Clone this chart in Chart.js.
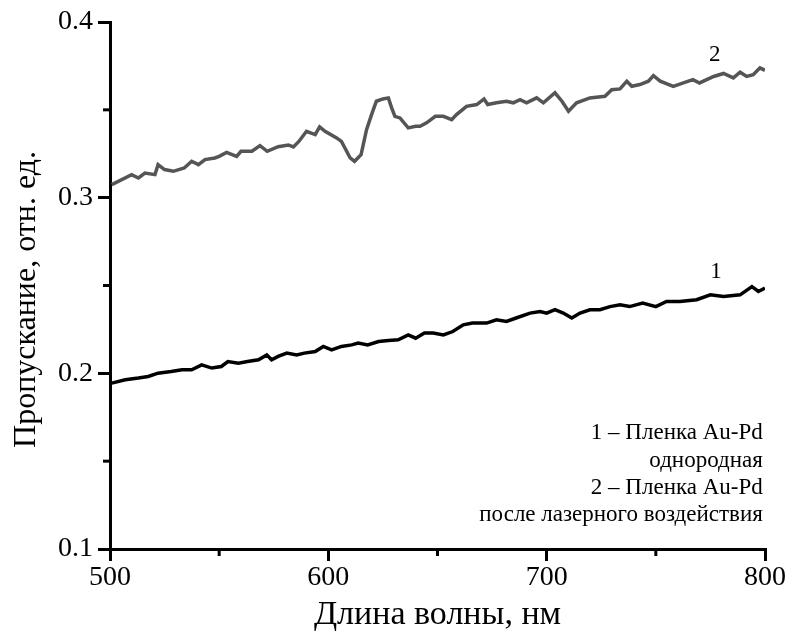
<!DOCTYPE html>
<html>
<head>
<meta charset="utf-8">
<script src="https://cdn.jsdelivr.net/npm/chart.js@4"></script>
<style>
  html, body { margin: 0; padding: 0; background: #fff; }
  #wrap { width: 790px; height: 635px; }
</style>
</head>
<body>
<div id="wrap"><canvas id="c" width="790" height="635"></canvas></div>
<script>
// Series 1: homogeneous Au-Pd film
const wl1 = [500.8,507,513,517.5,522,528,533,537.4,542,546.6,551,554,558.8,563,568,571.8,574,577,581,585.5,589,594,597.7,601.5,606,610.7,613.7,618,623,627.5,632,636.6,640,644,648,652.7,657,661.8,666,672.5,677,681.6,686,692.4,697,700,703.8,707.6,711.5,715.3,719.8,724.4,729,733.6,738,744,750,754.9,761,768.7,775,781,788.6,794,797,800];
const tr1 = [0.1944,0.1963,0.1973,0.1982,0.2001,0.201,0.202,0.202,0.2048,0.203,0.2039,0.2067,0.2058,0.2067,0.2077,0.2105,0.2077,0.2096,0.2115,0.2105,0.2115,0.2124,0.2153,0.2134,0.2153,0.2162,0.2172,0.2162,0.2181,0.2187,0.2191,0.2219,0.22,0.2229,0.2229,0.2219,0.2238,0.2276,0.2286,0.2286,0.2305,0.2295,0.2315,0.2343,0.2352,0.2343,0.2362,0.2343,0.2315,0.2343,0.2362,0.2362,0.238,0.239,0.238,0.24,0.238,0.2409,0.2409,0.2419,0.2447,0.2438,0.2447,0.2494,0.2466,0.2485];

// Series 2: Au-Pd film after laser treatment
const wl2 = [500.8,509.9,513,516,520.6,522,525,529,534,537.4,540.5,543.5,548,550,553.4,558,560,565,568.7,572,577,581.7,584,586.5,590,594,596,598.5,603.8,606,610,612,615,617.5,619.8,622,625,627.5,629,630.5,632.8,636.6,640,642,645,649,652.7,656.5,658.7,663.3,668,671.3,673,677,681.6,684.7,687.8,690.8,695.4,698.5,703.8,707,710,713.7,719.8,726.7,729.8,733.6,736.7,739,742.7,746.6,748.9,752,758,762.6,767,770,776.5,781,785.5,788.6,791.6,794.6,797.7,800];
const tr2 = [0.3074,0.3131,0.3112,0.314,0.3131,0.3188,0.316,0.315,0.3169,0.3207,0.3188,0.3217,0.3226,0.3235,0.3258,0.3235,0.3264,0.3264,0.3296,0.3264,0.329,0.330,0.3289,0.332,0.3378,0.3359,0.3403,0.3378,0.334,0.332,0.3226,0.3207,0.3245,0.3387,0.3473,0.3549,0.3562,0.3568,0.3511,0.3463,0.3454,0.3397,0.3406,0.3406,0.3426,0.3463,0.3463,0.3444,0.3473,0.352,0.353,0.3562,0.353,0.354,0.3549,0.354,0.3558,0.354,0.3568,0.354,0.3597,0.3549,0.3492,0.354,0.3568,0.3577,0.3615,0.3619,0.3663,0.3634,0.3644,0.3663,0.3695,0.3663,0.3634,0.3653,0.3672,0.3653,0.369,0.3707,0.3682,0.3714,0.369,0.37,0.3739,0.3725];

const xMajorTicks = [500, 600, 700, 800];
const xMinorTicks = [550, 650, 750];
const yMajorTicks = [0.1, 0.2, 0.3, 0.4];
const yMinorTicks = [0.15, 0.25, 0.35];

const xTitle = 'Длина волны, нм';
const yTitle = 'Пропускание, отн. ед.';
const curveLabels = [
  { text: '2', x: 777, y: 0.3815 },
  { text: '1', x: 777.5, y: 0.2578 }
];
const legendLines = [
  { text: '1 – Пленка Au-Pd', y: 0.1661 },
  { text: 'однородная', y: 0.1501 },
  { text: '2 – Пленка Au-Pd', y: 0.1348 },
  { text: 'после лазерного воздействия', y: 0.1194 }
];
const legendX = 799;

const FONT = '"Liberation Serif", "Times New Roman", serif';

const toPts = (xs, ys) => xs.map((x, i) => ({ x: x, y: ys[i] }));

const annotate = {
  id: 'annotate',
  afterDraw(chart) {
    const ctx = chart.ctx;
    const xs = chart.scales.x, ys = chart.scales.y;
    ctx.save();
    // minor ticks
    ctx.strokeStyle = '#000';
    ctx.lineWidth = 3;
    yMinorTicks.forEach(v => {
      const py = ys.getPixelForValue(v);
      ctx.beginPath();
      ctx.moveTo(xs.left - 7, py);
      ctx.lineTo(xs.left, py);
      ctx.stroke();
    });
    xMinorTicks.forEach(v => {
      const px = xs.getPixelForValue(v);
      ctx.beginPath();
      ctx.moveTo(px, ys.bottom);
      ctx.lineTo(px, ys.bottom + 7);
      ctx.stroke();
    });
    // y axis title
    ctx.fillStyle = '#000';
    ctx.save();
    ctx.translate(ys.left + 27, (ys.top + ys.bottom) / 2 + 14);
    ctx.rotate(-Math.PI / 2);
    ctx.font = '32px ' + FONT;
    ctx.textAlign = 'center';
    ctx.textBaseline = 'middle';
    ctx.fillText(yTitle, 0, 0);
    ctx.restore();
    // curve labels
    ctx.font = '23px ' + FONT;
    ctx.textAlign = 'center';
    ctx.textBaseline = 'middle';
    curveLabels.forEach(l => {
      ctx.fillText(l.text, xs.getPixelForValue(l.x), ys.getPixelForValue(l.y));
    });
    // legend text
    ctx.textAlign = 'right';
    legendLines.forEach(l => {
      ctx.fillText(l.text, xs.getPixelForValue(legendX), ys.getPixelForValue(l.y));
    });
    ctx.restore();
  }
};

new Chart(document.getElementById('c'), {
  type: 'line',
  data: {
    datasets: [
      {
        label: '1',
        data: toPts(wl1, tr1),
        borderColor: '#000000',
        borderWidth: 3.5,
        pointRadius: 0,
        tension: 0,
        fill: false
      },
      {
        label: '2',
        data: toPts(wl2, tr2),
        borderColor: '#555555',
        borderWidth: 3.5,
        pointRadius: 0,
        tension: 0,
        fill: false
      }
    ]
  },
  options: {
    responsive: false,
    animation: false,
    devicePixelRatio: 1,
    layout: { padding: { top: 22, right: 25, left: 0, bottom: 0 } },
    plugins: { legend: { display: false }, tooltip: { enabled: false } },
    scales: {
      x: {
        type: 'linear',
        min: 500, max: 800,
        afterBuildTicks: s => { s.ticks = xMajorTicks.map(v => ({ value: v })); },
        afterFit: s => { s.height = 86; },
        border: { display: true, color: '#000', width: 3 },
        grid: { drawOnChartArea: false, drawTicks: true, tickLength: 12, lineWidth: 3, color: '#000' },
        ticks: { color: '#000', font: { family: FONT, size: 28 }, padding: 0, maxRotation: 0 },
        title: { display: true, text: xTitle, color: '#000', font: { family: FONT, size: 34 }, padding: { top: 24, bottom: 0 } }
      },
      y: {
        type: 'linear',
        min: 0.1, max: 0.4,
        afterBuildTicks: s => { s.ticks = yMajorTicks.map(v => ({ value: v })); },
        afterFit: s => { s.width = 110; },
        border: { display: true, color: '#000', width: 3 },
        grid: { drawOnChartArea: false, drawTicks: true, tickLength: 12, lineWidth: 3, color: '#000' },
        ticks: { color: '#000', font: { family: FONT, size: 28 }, padding: 5, callback: v => v.toFixed(1) },
        title: { display: false }
      }
    }
  },
  plugins: [annotate]
});
</script>
</body>
</html>
